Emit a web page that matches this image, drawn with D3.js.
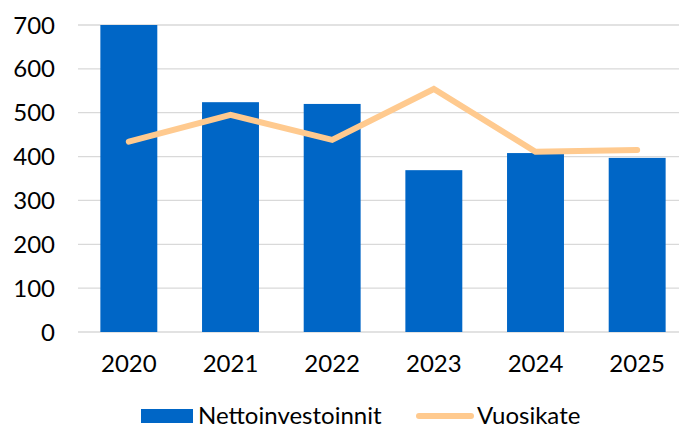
<!DOCTYPE html>
<html>
<head>
<meta charset="utf-8">
<script src="https://cdn.jsdelivr.net/npm/d3@7"></script>
<style>
  body { margin: 0; background: #fff; }
  svg { display: block; font-family: Lato, "Open Sans", sans-serif; }
</style>
</head>
<body>
<div id="chart"></div>
<script>
/* ---------------- datos ---------------- */
const years = ["2020", "2021", "2022", "2023", "2024", "2025"];
const nettoinvestoinnit = [700, 524, 520, 369, 408, 397];
const vuosikate = [434, 495, 438, 554, 411, 415];
const yTicks = [0, 100, 200, 300, 400, 500, 600, 700];

const width = 679, height = 426;

const svg = d3.select("#chart").append("svg")
    .attr("width", width)
    .attr("height", height);

const x = d3.scaleBand()
    .domain(years)
    .range([78, 688])
    .paddingInner(0.44)
    .paddingOuter(0.22);

const y = d3.scaleLinear()
    .domain([0, 700])
    .range([332, 25]);

// gridlines
svg.append("g")
    .selectAll("line")
    .data(yTicks)
    .enter()
    .append("line")
    .attr("x1", 78)
    .attr("x2", 679)
    .attr("y1", d => y(d))
    .attr("y2", d => y(d))
    .attr("stroke", "#d9d9d9")
    .attr("stroke-width", 1.3);

// y labels
svg.append("g")
    .selectAll("text")
    .data(yTicks)
    .enter()
    .append("text")
    .attr("x", 55)
    .attr("y", d => y(d))
    .attr("dy", "0.36em")
    .attr("text-anchor", "end")
    .attr("font-size", 24)
    .attr("fill", "#000")
    .text(d => d);

// bars
svg.append("g")
    .selectAll("rect")
    .data(nettoinvestoinnit)
    .enter()
    .append("rect")
    .attr("x", (d, i) => x(years[i]))
    .attr("width", x.bandwidth())
    .attr("y", d => y(d))
    .attr("height", d => y(0) - y(d))
    .attr("fill", "#0066c6");

// line
const line = d3.line()
    .x((d, i) => x(years[i]) + x.bandwidth() / 2)
    .y(d => y(d));

svg.append("path")
    .datum(vuosikate)
    .attr("d", line)
    .attr("fill", "none")
    .attr("stroke", "#ffca8f")
    .attr("stroke-width", 6)
    .attr("stroke-linecap", "round")
    .attr("stroke-linejoin", "miter");

// x labels
svg.append("g")
    .selectAll("text")
    .data(years)
    .enter()
    .append("text")
    .attr("x", d => x(d) + x.bandwidth() / 2)
    .attr("y", 371.5)
    .attr("text-anchor", "middle")
    .attr("font-size", 24)
    .attr("fill", "#000")
    .text(d => d);

// legend
const leg = svg.append("g");
leg.append("rect")
    .attr("x", 141).attr("y", 409)
    .attr("width", 52).attr("height", 14)
    .attr("fill", "#0066c6");
leg.append("text")
    .attr("x", 198).attr("y", 423.5)
    .attr("font-size", 24)
    .text("Nettoinvestoinnit");
leg.append("line")
    .attr("x1", 419).attr("x2", 471)
    .attr("y1", 416).attr("y2", 416)
    .attr("stroke", "#ffca8f")
    .attr("stroke-width", 6)
    .attr("stroke-linecap", "round");
leg.append("text")
    .attr("x", 477).attr("y", 423.5)
    .attr("font-size", 24)
    .text("Vuosikate");
</script>
</body>
</html>
